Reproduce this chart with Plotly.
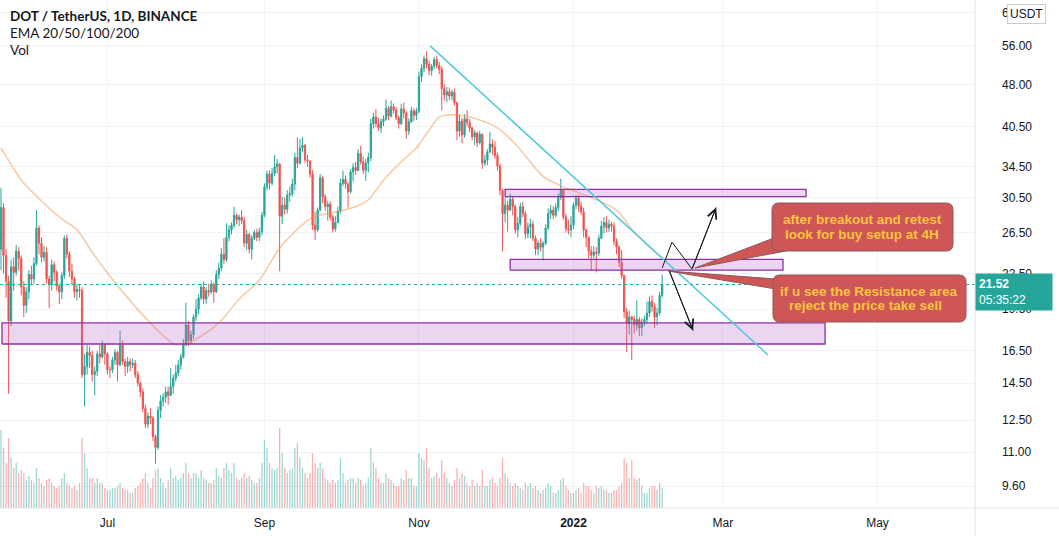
import math
import pandas as pd
import plotly.graph_objects as go

# ---------------- data (DOT/USDT daily) ----------------
START = pd.Timestamp("2021-05-20")
FIRST_OPEN = 24.8

close = [
    29.3, 24.2, 21.8, 18.6, 23.1, 22.6, 24.6, 23.9, 21.3, 19.8,
    20.9, 22.4, 22.0, 23.4, 27.0, 25.4, 24.0, 24.5, 22.0, 21.5,
    23.3, 22.6, 21.4, 20.9, 22.3, 25.9, 24.3, 22.7, 22.0, 20.9,
    21.1, 21.0, 15.0, 15.5, 16.4, 16.2, 15.0, 15.2, 16.3, 16.1,
    16.9, 16.3, 15.3, 15.3, 15.9, 16.4, 15.6, 16.9, 15.8, 15.5,
    15.8, 15.6, 15.7, 15.0, 14.5, 14.0, 13.1, 12.3, 12.7, 12.6,
    11.7, 11.2, 13.0, 13.5, 13.7, 14.0, 13.8, 14.3, 14.8, 15.1,
    15.6, 16.1, 16.9, 18.3, 17.2, 17.6, 18.9, 19.5, 20.4, 21.3,
    20.3, 21.0, 20.9, 21.5, 20.9, 22.4, 23.0, 24.3, 23.8, 26.0,
    26.8, 27.3, 28.4, 27.9, 28.2, 27.8, 25.4, 26.3, 24.8, 25.9,
    26.5, 26.0, 26.6, 28.4, 31.8, 33.5, 32.3, 33.6, 34.5, 34.9,
    28.3, 29.6, 29.1, 30.8, 31.0, 32.2, 35.8, 35.0, 37.2, 37.6,
    35.5, 35.3, 33.5, 27.3, 26.8, 29.0, 33.0, 30.6, 29.4, 29.7,
    28.2, 26.9, 27.6, 28.9, 32.3, 32.8, 32.2, 31.2, 33.8, 34.4,
    34.0, 36.4, 35.2, 34.0, 35.0, 35.8, 41.0, 42.1, 41.0, 40.3,
    41.3, 41.8, 43.6, 42.3, 43.9, 43.3, 42.0, 41.0, 43.5, 42.8,
    39.8, 41.3, 43.2, 42.4, 43.1, 49.5, 51.2, 53.2, 52.0, 50.7,
    51.6, 53.0, 51.8, 51.0, 47.2, 46.0, 46.6, 45.8, 46.5, 44.6,
    39.8, 41.4, 39.2, 41.8, 41.2, 40.3, 38.9, 39.5, 38.0, 39.3,
    35.0, 35.4, 36.6, 37.8, 37.3, 36.1, 34.6, 31.4, 28.6, 29.6,
    29.0, 30.3, 29.4, 26.8, 27.5, 29.4, 28.6, 26.4, 27.1, 27.4,
    25.9, 24.8, 25.4, 25.0, 25.4, 27.0, 28.6, 29.0, 28.4, 29.3,
    30.5, 31.4, 28.2, 26.9, 26.8, 27.3, 29.6, 30.4, 29.5, 28.8,
    26.8, 26.0, 24.6, 24.2, 24.5, 24.4, 25.9, 27.2, 27.6, 27.0,
    27.4, 27.2, 25.6, 25.0, 23.5, 22.3, 19.3, 18.4, 18.9, 18.7,
    18.3, 18.7, 18.1, 18.5, 18.7, 19.2, 20.1, 19.7, 18.9, 19.2,
    20.6, 21.52,
]

high = [
    31.7, 29.8, 24.8, 22.3, 23.8, 24.0, 25.2, 25.0, 24.2, 21.8,
    21.3, 22.8, 23.2, 24.0, 29.0, 27.3, 26.0, 25.1, 25.0, 22.3,
    23.8, 23.6, 22.8, 21.6, 22.6, 26.2, 26.3, 24.6, 23.4, 22.2,
    21.6, 21.5, 21.3, 16.3, 16.9, 16.8, 16.5, 15.5, 16.5, 16.9,
    17.2, 17.0, 16.4, 15.5, 16.1, 16.6, 16.5, 17.9, 17.2, 16.0,
    16.1, 16.0, 16.0, 15.9, 15.2, 14.6, 14.2, 13.3, 12.9, 13.1,
    12.7, 11.8, 13.2, 13.8, 13.9, 14.3, 14.3, 15.4, 15.0, 15.6,
    15.9, 16.3, 17.3, 20.0, 18.6, 17.9, 19.1, 20.3, 20.7, 21.6,
    21.8, 21.3, 21.6, 21.9, 21.7, 22.8, 23.5, 24.9, 25.9, 27.5,
    27.3, 27.6, 29.4, 28.6, 28.5, 29.0, 28.2, 26.8, 26.5, 26.2,
    26.8, 26.9, 27.0, 28.8, 32.3, 34.0, 34.0, 34.3, 36.2, 35.6,
    35.0, 30.6, 30.5, 31.4, 31.9, 32.9, 36.5, 38.8, 38.6, 38.9,
    37.8, 36.2, 35.4, 34.0, 28.8, 29.3, 33.5, 33.3, 30.9, 30.1,
    30.0, 28.5, 28.3, 29.4, 32.9, 34.0, 33.3, 32.4, 34.2, 35.0,
    35.2, 37.0, 37.5, 35.9, 35.6, 36.5, 41.8, 42.8, 43.5, 42.0,
    41.8, 42.4, 45.2, 44.0, 45.0, 44.5, 43.8, 42.4, 44.4, 44.6,
    43.1, 41.9, 43.9, 43.6, 43.7, 50.5, 52.0, 53.9, 54.8, 52.8,
    52.1, 53.6, 53.9, 52.5, 51.6, 48.0, 47.5, 47.4, 47.0, 47.2,
    44.8, 42.5, 42.0, 42.6, 43.3, 41.8, 40.5, 40.0, 39.7, 39.8,
    39.4, 36.2, 37.0, 39.7, 38.5, 38.2, 36.5, 34.9, 31.6, 30.5,
    30.1, 31.0, 30.7, 29.7, 28.2, 29.9, 30.0, 28.9, 27.6, 28.0,
    27.8, 26.2, 25.7, 25.9, 25.6, 27.4, 29.2, 29.6, 29.5, 29.8,
    31.0, 32.9, 31.5, 28.6, 27.9, 28.3, 29.9, 30.8, 30.8, 30.0,
    29.3, 26.9, 26.1, 25.1, 25.1, 25.0, 26.3, 27.8, 28.2, 28.3,
    27.9, 27.7, 27.6, 25.9, 25.2, 24.7, 22.4, 19.6, 19.4, 19.0,
    19.0, 20.2, 18.9, 18.8, 19.0, 20.1, 20.5, 20.6, 20.0, 19.6,
    20.9, 22.4,
]

low = [
    22.8, 22.5, 20.4, 13.9, 18.2, 21.0, 22.3, 22.8, 20.6, 18.9,
    19.2, 20.3, 21.5, 21.6, 23.2, 24.3, 23.5, 23.6, 21.6, 19.6,
    21.0, 21.8, 21.0, 19.9, 20.3, 22.0, 23.9, 22.2, 21.5, 20.4,
    20.2, 20.4, 14.8, 13.2, 15.0, 15.4, 14.6, 13.8, 14.9, 15.7,
    16.0, 15.6, 15.0, 14.8, 15.1, 15.6, 14.6, 15.5, 15.6, 14.9,
    15.1, 15.2, 15.4, 14.8, 14.3, 13.7, 12.9, 12.1, 12.1, 12.3,
    11.5, 10.5, 11.1, 12.6, 13.2, 13.4, 13.3, 13.8, 13.9, 14.6,
    14.9, 15.3, 16.0, 16.8, 16.8, 16.9, 17.3, 18.6, 19.1, 20.2,
    19.9, 19.9, 20.5, 20.7, 20.0, 20.8, 22.0, 22.7, 23.4, 23.6,
    25.6, 26.3, 27.0, 27.4, 27.2, 27.4, 25.0, 24.7, 24.4, 23.8,
    25.7, 25.6, 25.6, 26.2, 28.2, 31.4, 31.5, 32.0, 33.2, 33.6,
    22.7, 27.4, 28.5, 28.6, 30.0, 30.6, 31.4, 34.3, 34.8, 36.6,
    35.0, 34.5, 33.0, 26.8, 25.7, 26.6, 28.9, 29.8, 28.9, 27.8,
    27.8, 26.5, 26.6, 27.5, 28.6, 31.9, 31.6, 29.3, 31.0, 32.5,
    33.4, 33.9, 34.8, 33.5, 32.6, 33.7, 35.3, 40.2, 40.4, 39.8,
    39.5, 40.6, 41.5, 41.6, 42.0, 42.7, 41.6, 40.2, 40.8, 41.9,
    38.6, 39.2, 41.1, 41.4, 41.6, 42.8, 48.5, 50.4, 51.2, 49.8,
    49.7, 51.0, 51.2, 50.0, 43.2, 45.0, 44.7, 45.0, 45.0, 44.1,
    38.4, 38.9, 37.9, 38.8, 40.6, 39.6, 38.4, 37.6, 37.3, 37.7,
    34.2, 34.6, 34.7, 36.4, 36.2, 35.6, 34.0, 30.8, 24.6, 27.6,
    26.6, 28.9, 28.4, 26.4, 26.0, 27.2, 28.2, 25.8, 25.9, 25.9,
    25.6, 24.2, 24.2, 24.6, 23.7, 25.2, 26.8, 28.0, 28.0, 28.2,
    28.9, 30.2, 27.9, 26.5, 26.3, 26.0, 26.9, 29.1, 28.8, 28.4,
    26.0, 25.0, 23.9, 22.8, 23.9, 22.6, 24.1, 25.8, 26.4, 26.5,
    26.6, 26.6, 25.2, 24.3, 23.1, 22.0, 18.8, 16.4, 17.6, 15.9,
    17.7, 17.9, 17.5, 17.5, 18.2, 18.4, 18.9, 19.3, 18.1, 18.3,
    19.0, 20.4,
]

volume = [
    78, 60, 45, 70, 50, 40, 45, 35, 38, 35,
    28, 32, 28, 25, 40, 30, 25, 22, 28, 30,
    25, 22, 20, 22, 30, 35, 25, 22, 20, 22,
    18, 25, 70, 55, 40, 30, 30, 25, 30, 25,
    25, 20, 18, 18, 20, 20, 22, 25, 20, 18,
    18, 15, 15, 20, 22, 25, 30, 35, 25, 20,
    30, 38, 40, 30, 25, 20, 28, 40, 30, 32,
    28, 30, 35, 45, 35, 30, 35, 35, 30, 38,
    30, 28, 25, 25, 28, 40, 32, 30, 40, 45,
    38, 35, 45, 30, 28, 30, 35, 30, 32, 28,
    25, 25, 30, 45, 68, 60, 45, 40, 38, 40,
    80, 55, 40, 35, 38, 40, 60, 65, 50, 40,
    35, 30, 35, 55, 45, 40, 45, 40, 30, 28,
    25, 28, 25, 28, 50, 35, 25, 28, 30, 30,
    25, 30, 28, 22, 25, 30, 60, 45, 40, 30,
    25, 25, 35, 30, 28, 25, 22, 22, 30, 28,
    38, 30, 30, 22, 22, 55, 50, 48, 60, 40,
    30, 32, 35, 30, 48, 35, 30, 25, 22, 28,
    40, 30, 35, 32, 25, 22, 28, 22, 25, 22,
    38, 22, 22, 28, 30, 25, 22, 30, 50, 35,
    30, 25, 22, 25, 22, 20, 18, 25, 22, 25,
    20, 22, 18, 15, 18, 20, 25, 22, 15, 15,
    18, 28, 30, 22, 18, 15, 15, 18, 20, 15,
    25, 22, 22, 18, 15, 22, 20, 22, 18, 18,
    15, 15, 18, 18, 22, 25, 50, 45, 30, 48,
    30, 28, 30, 22, 15, 15, 20, 22, 22, 18, 25, 20,
]

# EMA line values (day index from START, value)
ema_day = [0, 8, 13, 23, 30, 36, 45, 59, 69, 76, 86, 94, 102, 110, 118, 123, 131,
           139, 145, 151, 158, 164, 169, 173, 178, 186, 196, 204, 214, 223, 232,
           243, 249, 256, 261]
ema_val = [37.2, 32.7, 31.0, 28.2, 26.8, 24.5, 21.7, 18.45, 16.9, 17.2, 18.45,
           20.3, 21.9, 24.9, 27.1, 28.2, 28.7, 29.3, 30.2, 32.7, 35.2, 37.2, 40.0,
           42.1, 42.5, 42.0, 40.3, 37.4, 33.2, 31.7, 30.6, 29.0, 26.9, 25.0, 23.95]

price_ticks = [9.6, 11, 12.5, 14.5, 16.5, 19.5, 22.5, 26.5, 30.5, 34.5, 40.5, 48, 56, 64]
month_ticks = ["2021-07-01", "2021-09-01", "2021-11-01", "2022-01-01", "2022-03-01", "2022-05-01"]
month_labels = ["Jul", "Sep", "Nov", "<b>2022</b>", "Mar", "May"]

# ---------------- derived ----------------
dates = pd.date_range(START, periods=len(close), freq="D")
opens = [FIRST_OPEN] + close[:-1]


def day(d):
    return START + pd.Timedelta(days=d)


GREEN = "#26a69a"
RED = "#ef5350"
TEXT = "#131722"
FONT = "Liberation Sans"
W, H = 1059, 536
ML, MR, MT, MB = 0, 84, 0, 28
PW, PH = W - ML - MR, H - MT - MB


def px(xp):
    return xp / PW


def py(yp):
    return 1 - yp / PH


fig = go.Figure()

# volume (own linear axis, bottom of pane)
vol_colors = ["rgba(38,166,154,0.45)" if c >= o else "rgba(239,83,80,0.45)"
              for o, c in zip(opens, close)]
fig.add_trace(go.Bar(x=dates, y=volume, marker_color=vol_colors, marker_line_width=0,
                     yaxis="y", hoverinfo="skip"))

# EMA
fig.add_trace(go.Scatter(x=[dates[i] for i in ema_day], y=ema_val, mode="lines",
                         line=dict(color="rgba(245,150,70,0.55)", width=1.4, shape="spline", smoothing=0.8),
                         yaxis="y2", hoverinfo="skip"))

# candles
fig.add_trace(go.Candlestick(
    x=dates, open=opens, high=high, low=low, close=close, yaxis="y2",
    increasing=dict(line=dict(color=GREEN, width=1), fillcolor=GREEN),
    decreasing=dict(line=dict(color=RED, width=1), fillcolor=RED),
    whiskerwidth=0, hoverinfo="skip"))

# zones (drawings)
zones = [
    (0.4, 325.3, 16.96, 18.45),
    (201.0, 308.7, 22.8, 23.8),
    (199.0, 317.8, 30.6, 31.5),
]
for d0, d1, p0, p1 in zones:
    fig.add_trace(go.Scatter(
        x=[day(d0), day(d1), day(d1), day(d0), day(d0)], y=[p0, p0, p1, p1, p0],
        mode="lines", fill="toself", fillcolor="rgba(186,104,200,0.28)",
        line=dict(color="#8e2fa6", width=1.3), yaxis="y2", hoverinfo="skip"))

# trend line
fig.add_trace(go.Scatter(x=[day(169.4), day(302.8)], y=[56.0, 16.23], mode="lines",
                         line=dict(color="#4fc9dc", width=1.5), yaxis="y2", hoverinfo="skip"))

# last price dotted line
xr = [day(-0.39), day(384.5)]
fig.add_trace(go.Scatter(x=xr, y=[close[-1], close[-1]], mode="lines",
                         line=dict(color=GREEN, width=1, dash="dot"), yaxis="y2", hoverinfo="skip"))

# zigzag paths
buy_path = [(261.0, 23.0), (264.9, 25.5), (272.8, 22.9), (282.3, 29.3)]
sell_path = [(263.7, 22.8), (273.2, 17.9)]
for path in (buy_path, sell_path):
    fig.add_trace(go.Scatter(x=[day(d) for d, _ in path], y=[p for _, p in path], mode="lines",
                             line=dict(color=TEXT, width=1), yaxis="y2", hoverinfo="skip"))
    (da, pa), (db, pb) = path[-2], path[-1]
    fig.add_annotation(x=day(db), y=math.log10(pb), ax=day(da), ay=math.log10(pa),
                       xref="x", yref="y2", axref="x", ayref="y2", text="",
                       showarrow=True, arrowhead=5, arrowsize=1.8, arrowwidth=1, arrowcolor=TEXT)

# callouts (paper coordinates)
def rrect(x0, y0, x1, y1, r):
    P = lambda a, b: f"{px(a):.5f},{py(b):.5f}"
    return (f"M{P(x0 + r, y0)} L{P(x1 - r, y0)} Q{P(x1, y0)} {P(x1, y0 + r)} "
            f"L{P(x1, y1 - r)} Q{P(x1, y1)} {P(x1 - r, y1)} L{P(x0 + r, y1)} "
            f"Q{P(x0, y1)} {P(x0, y1 - r)} L{P(x0, y0 + r)} Q{P(x0, y0)} {P(x0 + r, y0)} Z")


def tri(a, b, c):
    P = lambda q: f"{px(q[0]):.5f},{py(q[1]):.5f}"
    return f"M{P(a)} L{P(b)} L{P(c)} Z"


CALL_FILL = "#cf5656"
CALL_LINE = "#8c5a5a"
callouts = [
    dict(box=(772, 203, 953, 251), tail=((774, 238), (786, 251), (695, 268)),
         lines=[("after breakout and retest", 862, 219), ("look for buy setup at 4H", 862, 234)]),
    dict(box=(773, 275, 966, 322), tail=((776, 279), (776, 289), (668, 271)),
         lines=[("if u see the Resistance area", 869, 291), ("reject the price take sell", 865, 305)]),
]
for c in callouts:
    fig.add_shape(type="path", xref="paper", yref="paper", path=tri(*c["tail"]),
                  fillcolor=CALL_FILL, line=dict(color=CALL_LINE, width=1), layer="above")
    fig.add_shape(type="path", xref="paper", yref="paper", path=rrect(*c["box"], 7),
                  fillcolor=CALL_FILL, line=dict(color=CALL_LINE, width=1), layer="above")
    for t, cx, cy in c["lines"]:
        fig.add_annotation(xref="paper", yref="paper", x=px(cx), y=py(cy), text=f"<b>{t}</b>",
                           showarrow=False, xanchor="center", yanchor="middle",
                           font=dict(family=FONT, size=13.5, color="#f9c440"))

# frame lines
fig.add_shape(type="line", xref="paper", yref="paper", x0=1, x1=1, y0=-MB / PH, y1=1,
              line=dict(color="#e0e3eb", width=1), layer="above")
fig.add_shape(type="line", xref="paper", yref="paper", x0=0, x1=W / PW, y0=0, y1=0,
              line=dict(color="#e0e3eb", width=1), layer="above")

# header texts
hdr = [("<b>DOT / TetherUS, 1D, BINANCE</b>", 16), ("EMA 20/50/100/200", 33), ("Vol", 50)]
for t, yy in hdr:
    fig.add_annotation(xref="paper", yref="paper", x=px(8), y=py(yy), text=t, showarrow=False,
                       xanchor="left", yanchor="middle", font=dict(family="Lato", size=13.5, color=TEXT))

# last price label
fig.add_annotation(xref="paper", yref="y2", x=1.0, y=math.log10(close[-1]), xanchor="left",
                   yanchor="top", yshift=12, text=f"<b>{close[-1]:.2f}</b><br>05:35:22", showarrow=False,
                   align="left", bgcolor=GREEN, borderpad=3, width=70,
                   font=dict(family=FONT, size=12, color="white"))

# currency badge
fig.add_annotation(xref="paper", yref="paper", x=px(1026), y=py(14), text="USDT", showarrow=False,
                   xanchor="center", yanchor="middle", bgcolor="white", bordercolor="#c9ccd4",
                   borderwidth=1, borderpad=2, font=dict(family=FONT, size=12, color=TEXT))

fig.update_layout(
    width=W, height=H, margin=dict(l=ML, r=MR, t=MT, b=MB),
    paper_bgcolor="white", plot_bgcolor="white", showlegend=False, bargap=0.5,
    xaxis=dict(type="date", range=xr, tickvals=month_ticks, ticktext=month_labels,
               showgrid=True, gridcolor="#f0f3fa", gridwidth=1, ticks="", showline=False,
               zeroline=False, tickfont=dict(family=FONT, size=12, color=TEXT),
               rangeslider=dict(visible=False), ticklabelstandoff=6, fixedrange=True),
    yaxis=dict(range=[0, PH], visible=False, fixedrange=True),
    yaxis2=dict(type="log", range=[math.log10(8.79), math.log10(67.3)], overlaying="y",
                side="right", tickvals=price_ticks, ticktext=[f"{v:.2f}" for v in price_ticks],
                showgrid=True, gridcolor="#f0f3fa", ticks="", showline=False, zeroline=False,
                tickfont=dict(family=FONT, size=12, color=TEXT), ticklabelstandoff=26,
                fixedrange=True),
)

fig.write_html("out.html", config={"displayModeBar": False},
               post_script="document.body.style.margin='0';")
